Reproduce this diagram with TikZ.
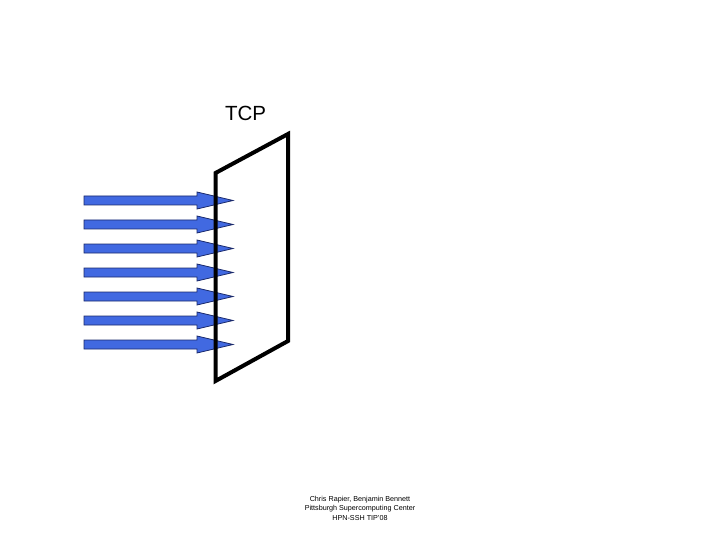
\documentclass[tikz,border=0pt]{standalone}
\usepackage{fontspec}
\setmainfont{Liberation Sans}
\definecolor{arrowblue}{HTML}{4169E1}
\definecolor{arrowedge}{HTML}{1A2A6C}
\begin{document}
\begin{tikzpicture}[x=1pt,y=-1pt,
  flowarrow/.style={fill=arrowblue,draw=arrowedge,line width=0.8pt,line join=miter},
  panel/.style={draw=black,line width=4pt,line join=miter}]
\useasboundingbox (0,0) rectangle (720,540);
\foreach \i/\y in {a/200.5,b/224.5,c/248.5,d/272.5,e/296.5,f/320.5,g/344.5}{
  \coordinate (s\i) at (84,\y);
  \coordinate (t\i) at (233,\y);
  \draw[flowarrow] (84,\y-4.5) -- (197,\y-4.5) -- (197,\y-8.5) -- (t\i) -- (197,\y+8.5) -- (197,\y+4.5) -- (84,\y+4.5) -- cycle;
}
\coordinate (p1) at (215.5,173);
\coordinate (p2) at (288,134);
\coordinate (p3) at (288,341);
\coordinate (p4) at (215.5,381);
\draw[panel] (p1) -- (p2) -- (p3) -- (p4) -- cycle;
\node[font=\fontsize{20.5}{24}\selectfont] (tcp) at (245.5,113) {TCP};
\node[font=\fontsize{7.2}{9.5}\selectfont,align=center] (foot) at (360,508) {Chris Rapier, Benjamin Bennett\\Pittsburgh Supercomputing Center\\HPN-SSH TIP'08};
\end{tikzpicture}
\end{document}
